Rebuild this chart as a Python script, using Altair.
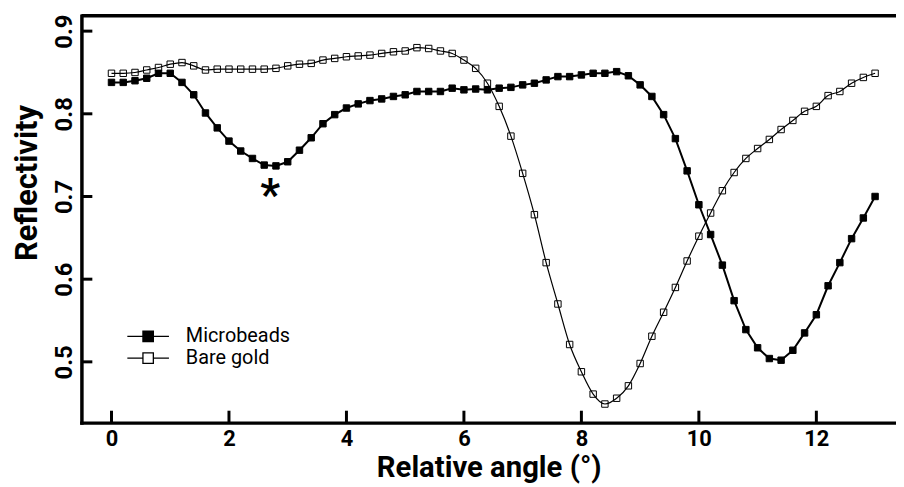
import altair as alt
import pandas as pd

angles = [0.0, 0.2, 0.4, 0.6, 0.8, 1.0, 1.2, 1.4, 1.6, 1.8,
          2.0, 2.2, 2.4, 2.6, 2.8, 3.0, 3.2, 3.4, 3.6, 3.8,
          4.0, 4.2, 4.4, 4.6, 4.8, 5.0, 5.2, 5.4, 5.6, 5.8,
          6.0, 6.2, 6.4, 6.6, 6.8, 7.0, 7.2, 7.4, 7.6, 7.8,
          8.0, 8.2, 8.4, 8.6, 8.8, 9.0, 9.2, 9.4, 9.6, 9.8,
          10.0, 10.2, 10.4, 10.6, 10.8, 11.0, 11.2, 11.4, 11.6, 11.8,
          12.0, 12.2, 12.4, 12.6, 12.8, 13.0]

microbeads = [0.838, 0.838, 0.840, 0.843, 0.849, 0.849, 0.838, 0.823, 0.801, 0.783,
              0.767, 0.755, 0.746, 0.738, 0.737, 0.742, 0.756, 0.771, 0.788, 0.799,
              0.807, 0.812, 0.816, 0.818, 0.821, 0.823, 0.827, 0.827, 0.827, 0.831,
              0.829, 0.830, 0.829, 0.831, 0.832, 0.835, 0.837, 0.841, 0.845, 0.845,
              0.847, 0.849, 0.849, 0.851, 0.846, 0.835, 0.821, 0.799, 0.770, 0.731,
              0.690, 0.654, 0.617, 0.574, 0.539, 0.517, 0.504, 0.502, 0.514, 0.535,
              0.557, 0.592, 0.620, 0.649, 0.674, 0.700]

bare_gold = [0.849, 0.849, 0.850, 0.853, 0.856, 0.860, 0.862, 0.858, 0.853, 0.854,
             0.854, 0.854, 0.854, 0.854, 0.855, 0.858, 0.860, 0.861, 0.865, 0.867,
             0.869, 0.870, 0.871, 0.873, 0.875, 0.876, 0.880, 0.879, 0.876, 0.873,
             0.865, 0.855, 0.837, 0.809, 0.773, 0.728, 0.678, 0.620, 0.570, 0.521,
             0.488, 0.461, 0.449, 0.456, 0.471, 0.498, 0.531, 0.560, 0.590, 0.622,
             0.652, 0.680, 0.707, 0.729, 0.746, 0.758, 0.769, 0.781, 0.792, 0.803,
             0.809, 0.822, 0.827, 0.837, 0.844, 0.849]

series_names = ["Microbeads", "Bare gold"]
x_ticks = [0, 2, 4, 6, 8, 10, 12]
y_ticks = [0.5, 0.6, 0.7, 0.8, 0.9]
star_x = [2.7]
star_y = [0.699]

W, H = 821, 410
FONT = "Roboto"

df = pd.DataFrame({
    "angle": angles + angles,
    "refl": microbeads + bare_gold,
    "series": [series_names[0]] * len(angles) + [series_names[1]] * len(angles),
})

x_scale = alt.Scale(domain=[-0.512, 13.356], nice=False, zero=False)
y_scale = alt.Scale(domain=[0.4265, 0.9185], nice=False, zero=False)

x_axis = alt.Axis(values=x_ticks, ticks=False, grid=False, domainColor="black",
                  domainWidth=3.5, domainCap="square", labelFont=FONT,
                  labelFontWeight="bold", labelFontSize=22, labelColor="black",
                  labelPadding=6, labelFlush=False, title="Relative angle (°)",
                  titleFont=FONT, titleFontSize=29.5, titleFontWeight="bold",
                  titleColor="black", titleBaseline="alphabetic", titleY=54)
y_axis = alt.Axis(values=y_ticks, format=".1f", ticks=False, grid=False,
                  domainColor="black", domainWidth=3.5, domainCap="square",
                  labelFont=FONT, labelFontWeight="bold", labelFontSize=24,
                  labelColor="black", labelAngle=270, labelAlign="center",
                  labelBaseline="alphabetic", labelPadding=10, labelFlush=False,
                  title="Reflectivity", titleFont=FONT, titleFontSize=31,
                  titleFontWeight="bold", titleColor="black", titleAngle=270,
                  titleBaseline="alphabetic", titleX=-45, titleY=168,
                  titleAlign="center")

X = alt.X("angle:Q", scale=x_scale, axis=x_axis)
Y = alt.Y("refl:Q", scale=y_scale, axis=y_axis)

base = alt.Chart(df)

line_mb = base.transform_filter(alt.datum.series == "Microbeads").mark_line(
    color="black", strokeWidth=2).encode(x=X, y=Y)
line_bg = base.transform_filter(alt.datum.series == "Bare gold").mark_line(
    color="black", strokeWidth=1.2, interpolate="monotone").encode(x=X, y=Y)

legend_path = "M-4,0L-1,0M1,0L4,0M-1,-1L1,-1L1,1L-1,1Z"
points = base.mark_square(size=42, stroke="black", strokeWidth=1, opacity=1).encode(
    x=X, y=Y,
    fill=alt.Fill("series:N",
                  scale=alt.Scale(domain=series_names, range=["black", "transparent"]),
                  sort=series_names,
                  legend=alt.Legend(orient="none", legendX=57.25, legendY=313,
                                    title=None, symbolType=legend_path,
                                    symbolSize=110, symbolStrokeColor="black",
                                    symbolStrokeWidth=1.3, symbolOpacity=1,
                                    labelFont=FONT, labelFontSize=20,
                                    labelColor="black", labelOffset=28,
                                    padding=0, rowPadding=2)),
)

xt = alt.Chart(pd.DataFrame({"t": x_ticks})).mark_rule(
    color="black", strokeWidth=3).encode(
    x=alt.X("t:Q", scale=x_scale, axis=x_axis),
    y=alt.value(H), y2=alt.value(H - 12))
yt = alt.Chart(pd.DataFrame({"t": y_ticks})).mark_rule(
    color="black", strokeWidth=3).encode(
    y=alt.Y("t:Q", scale=y_scale, axis=y_axis),
    x=alt.value(0), x2=alt.value(11))

top_line = alt.Chart(pd.DataFrame({"a": [0]})).mark_rule(
    color="black", strokeWidth=3.5).encode(
    x=alt.value(0), x2=alt.value(W), y=alt.value(0))

star = alt.Chart(pd.DataFrame({"x": star_x, "y": star_y})).mark_text(
    text="*", font=FONT, fontSize=44, fontWeight="bold", color="black",
    baseline="middle", align="center").encode(
    x=alt.X("x:Q", scale=x_scale, axis=x_axis),
    y=alt.Y("y:Q", scale=y_scale, axis=y_axis))

chart = alt.layer(line_mb, line_bg, points, xt, yt, top_line, star).properties(
    width=W, height=H,
    autosize=alt.AutoSizeParams(type="none"),
    padding={"left": 74, "top": 6, "right": 0, "bottom": 64},
).configure_view(stroke=None)

chart.save("out.html", embed_options={"renderer": "svg", "actions": False})
